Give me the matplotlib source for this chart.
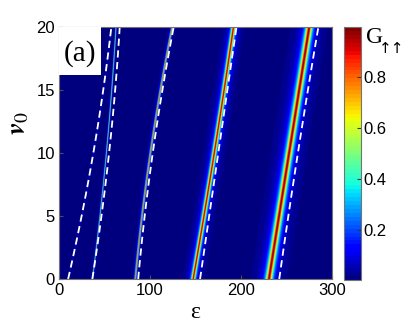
import numpy as np
import matplotlib
matplotlib.use("Agg")
import matplotlib.pyplot as plt
from matplotlib.patches import Rectangle

plt.rcParams["mathtext.fontset"] = "stix"

# ---- data ----
y_knots = [0, 10, 20]                     # v0 values where positions were read
# resonance ridges: epsilon position at v0 = 0, 10, 20
ridge_pos = [
    [10.0, 37.7, 57.5],     # very faint ridge along first dashed line
    [36.6, 51.8, 62.3],
    [83.5, 100.0, 123.8],
    [147.0, 170.0, 191.0],
    [230.0, 252.0, 274.0],
]
ridge_width = [0.3, 0.35, 0.6, 1.7, 2.8]   # half-width (epsilon units)
ridge_peak = [0.15, 0.65, 0.9, 0.97, 0.99]
# dashed white guide lines: epsilon at v0 = 0, 10, 20
dash_pos = [
    [10.0, 37.7, 57.5],
    [36.6, 55.0, 66.7],
    [87.0, 103.0, 126.0],
    [155.0, 175.0, 195.0],
    [242.0, 262.5, 285.0],
]
x_ticks = [0, 100, 200, 300]
y_ticks = [0, 5, 10, 15, 20]
cb_ticks = [0.2, 0.4, 0.6, 0.8]

# ---- build field ----
eps = np.linspace(0, 300, 1500)
v0 = np.linspace(0, 20, 300)
E, V = np.meshgrid(eps, v0)
G = np.zeros_like(E)
for pos, w, a in zip(ridge_pos, ridge_width, ridge_peak):
    c = np.polyval(np.polyfit(y_knots, pos, 2), v0)[:, None]
    G += a / (1.0 + ((E - c) / w) ** 2)
G = np.clip(G, 0, 0.995)

fig = plt.figure(figsize=(4.09, 3.27), dpi=100)
ax = fig.add_axes([0.1443, 0.1468, 0.6675, 0.7706])
cax = fig.add_axes([0.841, 0.1437, 0.0416, 0.7737])

cmap = plt.get_cmap("jet", 64)
im = ax.imshow(G, extent=[0, 300, 0, 20], origin="lower", aspect="auto",
               cmap=cmap, vmin=0.004, vmax=0.995, interpolation="bilinear")

for pos in dash_pos:
    vv = np.linspace(0, 20, 60)
    ax.plot(np.polyval(np.polyfit(y_knots, pos, 2), vv), vv,
            color="white", lw=1.3, dashes=(4, 2.5))

ax.set_xlim(0, 300)
ax.set_ylim(0, 20)
ax.set_xticks(x_ticks)
ax.set_yticks(y_ticks)
tick_font = dict(family="Liberation Sans", size=12)
ax.set_xticklabels([str(t) for t in x_ticks], **tick_font)
ax.set_yticklabels([str(t) for t in y_ticks], **tick_font)
ax.tick_params(direction="in", length=3, color="0.3", pad=3)
for s in ax.spines.values():
    s.set_color("0.45")

ax.add_patch(Rectangle((0, 0.81), 0.154, 0.19, transform=ax.transAxes,
                       facecolor="white", edgecolor="none", zorder=3))
ax.text(0.077, 0.895, "(a)", transform=ax.transAxes, ha="center", va="center",
        family="Liberation Serif", size=21, zorder=4)

ax.set_xlabel("ε", family="Liberation Serif", size=17, labelpad=3)
ax.set_ylabel(r"$\mathbfit{v}_{\mathit{0}}$", size=20, rotation=90)
ax.yaxis.set_label_coords(-0.10, 0.62)

cb = fig.colorbar(im, cax=cax, ticks=cb_ticks)
cb.ax.set_yticklabels([f"{t:.1f}" for t in cb_ticks], **tick_font)
cb.ax.tick_params(direction="in", length=3, color="0.2", pad=2)
cb.outline.set_edgecolor("0.45")
fig.text(0.917, 0.885, "G", family="Liberation Serif", size=17, ha="center", va="center")
fig.text(0.958, 0.852, "↑↑", family="DejaVu Sans", size=11, ha="center", va="center")

fig.savefig("out.png", dpi=100)
